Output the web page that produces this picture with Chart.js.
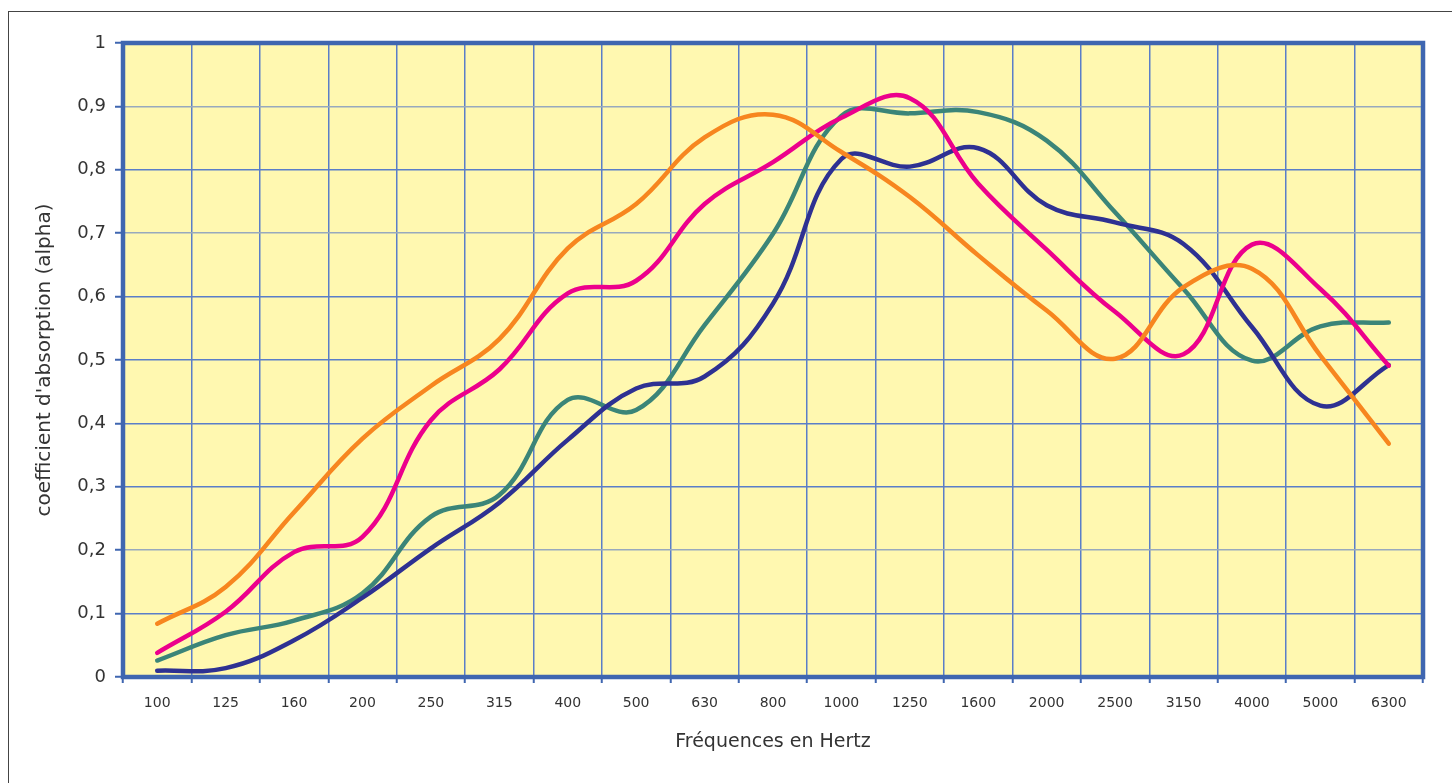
<!DOCTYPE html>
<html>
<head>
<meta charset="utf-8">
<script src="https://cdn.jsdelivr.net/npm/chart.js@4.4.1/dist/chart.umd.min.js"></script>
<style>
  html, body { margin: 0; padding: 0; background: #ffffff; }
  #wrap { position: relative; width: 1452px; height: 783px; overflow: hidden; }
  #frame { position: absolute; left: 8px; top: 11px; width: 1460px; height: 800px; border: 1px solid #444; box-sizing: border-box; }
  canvas { position: absolute; left: 0; top: 0; }
</style>
</head>
<body>
<div id="wrap">
  <div id="frame"></div>
  <canvas id="c" width="1452" height="783"></canvas>
</div>
<script>
const categories = ['100','125','160','200','250','315','400','500','630','800','1000','1250','1600','2000','2500','3150','4000','5000','6300'];
const orangeValues  = [0.084, 0.142, 0.260, 0.376, 0.459, 0.533, 0.676, 0.746, 0.851, 0.887, 0.828, 0.757, 0.665, 0.578, 0.502, 0.615, 0.644, 0.507, 0.368];
const magentaValues = [0.038, 0.103, 0.197, 0.221, 0.405, 0.485, 0.605, 0.625, 0.746, 0.812, 0.882, 0.913, 0.778, 0.674, 0.576, 0.509, 0.682, 0.612, 0.491];
const navyValues    = [0.010, 0.014, 0.058, 0.125, 0.203, 0.275, 0.374, 0.455, 0.474, 0.589, 0.817, 0.805, 0.834, 0.744, 0.717, 0.683, 0.552, 0.428, 0.492];
const tealValues    = [0.026, 0.066, 0.089, 0.132, 0.253, 0.287, 0.437, 0.421, 0.555, 0.699, 0.885, 0.889, 0.891, 0.846, 0.733, 0.612, 0.499, 0.553, 0.559];
const yTickLabels = ['0','0,1','0,2','0,3','0,4','0,5','0,6','0,7','0,8','0,9','1'];

const BLUE = '#3f66b0';
const GRID = '#5a7ec8';
const GRID_GRAY = '#98a9bd';

const plotBg = {
  id: 'plotBg',
  beforeDraw(chart) {
    const {ctx, chartArea: a} = chart;
    ctx.save();
    ctx.fillStyle = '#fff8b0';
    ctx.fillRect(a.left, a.top, a.right - a.left, a.bottom - a.top);
    ctx.restore();
  },
  afterDraw(chart) {
    const {ctx, chartArea: a} = chart;
    ctx.save();
    ctx.strokeStyle = BLUE;
    ctx.lineWidth = 4.5;
    ctx.strokeRect(a.left, a.top, a.right - a.left, a.bottom - a.top);
    ctx.restore();
  }
};

Chart.defaults.font.family = "'DejaVu Sans', 'Liberation Sans', sans-serif";

const mk = (data, color) => ({
  data, borderColor: color, backgroundColor: color,
  borderWidth: 4.5, pointRadius: 0, pointHoverRadius: 0,
  tension: 0.4, borderCapStyle: 'round', borderJoinStyle: 'round', fill: false
});

new Chart(document.getElementById('c'), {
  type: 'line',
  data: {
    labels: categories,
    datasets: [
      mk(orangeValues, '#f7861f'),
      mk(magentaValues, '#ec008c'),
      mk(navyValues, '#2e3192'),
      mk(tealValues, '#3b8578')
    ]
  },
  options: {
    responsive: false,
    animation: false,
    layout: { padding: { left: 0, top: 43, right: 29, bottom: 0 } },
    plugins: { legend: { display: false }, tooltip: { enabled: false }, title: { display: false } },
    scales: {
      x: {
        type: 'category',
        offset: true,
        grid: { offset: true, color: GRID, lineWidth: 1.5, tickLength: 6, tickColor: BLUE, tickWidth: 2 },
        border: { display: false },
        ticks: { color: '#333', font: { size: 14 }, padding: 12, maxRotation: 0, autoSkip: false },
        title: { display: true, text: 'Fréquences en Hertz', color: '#333', font: { size: 19 }, padding: { bottom: 30 } },
        afterFit(scale) { scale.height = 106; }
      },
      y: {
        min: 0, max: 1,
        grid: {
          color: (c) => {
            const i = c.index;
            return (i === 9 || i === 7 || i === 2) ? GRID_GRAY : GRID;
          },
          lineWidth: 1.5, tickLength: 8, tickColor: BLUE, tickWidth: 2
        },
        border: { display: false },
        ticks: {
          stepSize: 0.1, color: '#333', font: { size: 18 }, padding: 9,
          callback: (v, i) => yTickLabels[i]
        },
        title: { display: true, text: "coefficient d'absorption (alpha)", color: '#333', font: { size: 20 }, padding: { top: 33 } },
        afterFit(scale) { scale.width = 123; }
      }
    }
  },
  plugins: [plotBg]
});
</script>
</body>
</html>
